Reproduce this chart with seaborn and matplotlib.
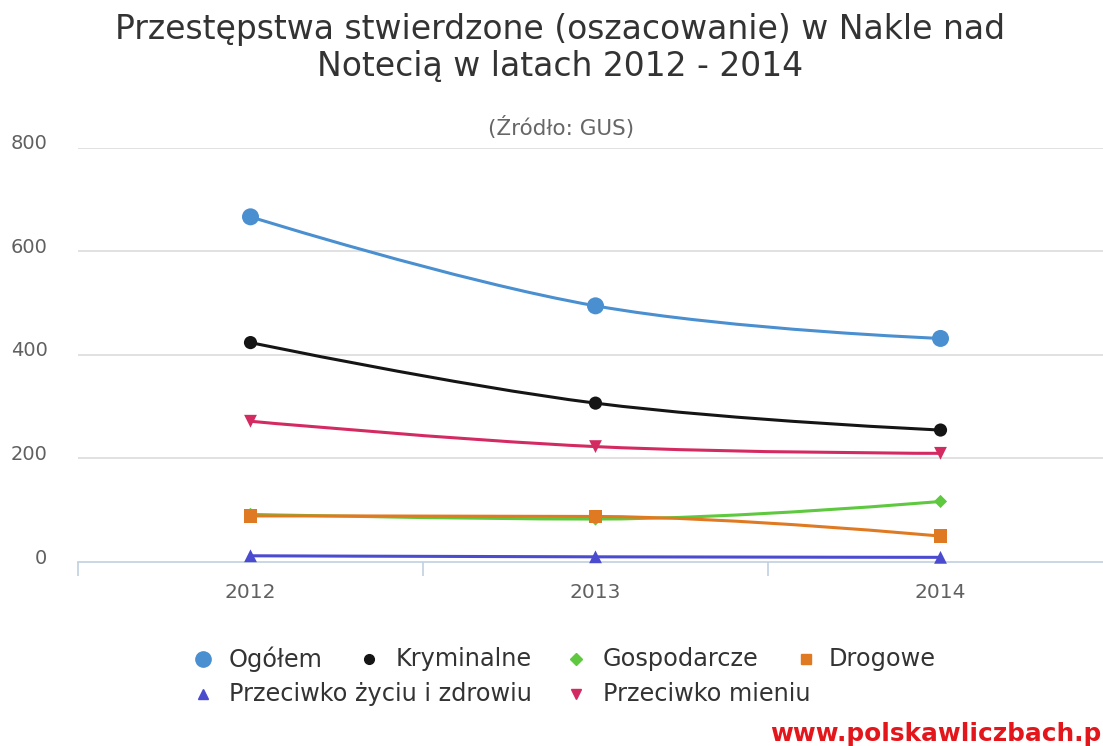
import numpy as np
import pandas as pd
import matplotlib
matplotlib.use("Agg")
import matplotlib.pyplot as plt
from matplotlib.path import Path
from matplotlib.patches import PathPatch
from matplotlib.lines import Line2D
from matplotlib.transforms import ScaledTranslation
import seaborn as sns

# --- data -------------------------------------------------------------
years = ["2012", "2013", "2014"]
series_names = ["Ogółem", "Kryminalne", "Gospodarcze", "Drogowe",
                "Przeciwko życiu i zdrowiu", "Przeciwko mieniu"]
ogolem = [667, 495, 432]
kryminalne = [424, 307, 255]
gospodarcze = [92, 83, 117]
drogowe = [89, 88, 50]
zycie_zdrowie = [12, 10, 9]
mienie = [272, 223, 210]
y_ticks = [0, 200, 400, 600, 800]

values = [ogolem, kryminalne, gospodarcze, drogowe, zycie_zdrowie, mienie]
colors = ["#4a8fd0", "#151515", "#5ec83f", "#e07a22", "#4b4bd0", "#d42a62"]
markers = ["o", "o", "D", "s", "^", "v"]
sizes = [150, 90, 45, 95, 85, 85]

df = pd.DataFrame({
    "rok": np.tile(np.arange(len(years)), len(series_names)),
    "seria": np.repeat(series_names, len(years)),
    "wartosc": np.concatenate(values),
})

sns.set_style("white")
plt.rcParams["font.family"] = ["DejaVu Sans"]

W, H = 1103, 746
fig = plt.figure(figsize=(W / 100, H / 100), dpi=100)
ax = fig.add_axes([78 / W, (H - 562) / H, (1113 - 78) / W, (562 - 148) / H])


def spline_path(xs, ys, smoothing=1.5):
    """Smoothed cubic Bezier path through the given points."""
    n = len(xs)
    left = [(xs[i], ys[i]) for i in range(n)]
    right = [(xs[i], ys[i]) for i in range(n)]
    d = smoothing + 1
    for i in range(1, n - 1):
        px, py = xs[i], ys[i]
        lx, ly = xs[i - 1], ys[i - 1]
        nx, ny = xs[i + 1], ys[i + 1]
        lcx, lcy = (smoothing * px + lx) / d, (smoothing * py + ly) / d
        rcx, rcy = (smoothing * px + nx) / d, (smoothing * py + ny) / d
        if rcx != lcx:
            corr = ((rcy - lcy) * (rcx - px)) / (rcx - lcx) + py - rcy
            lcy += corr
            rcy += corr
        if lcy > ly and lcy > py:
            lcy = max(ly, py); rcy = 2 * py - lcy
        elif lcy < ly and lcy < py:
            lcy = min(ly, py); rcy = 2 * py - lcy
        if rcy > ny and rcy > py:
            rcy = max(ny, py); lcy = 2 * py - rcy
        elif rcy < ny and rcy < py:
            rcy = min(ny, py); lcy = 2 * py - rcy
        left[i] = (lcx, lcy)
        right[i] = (rcx, rcy)
    verts = [(xs[0], ys[0])]
    codes = [Path.MOVETO]
    for i in range(1, n):
        verts += [right[i - 1], left[i], (xs[i], ys[i])]
        codes += [Path.CURVE4] * 3
    return Path(verts, codes)


# gridlines
for t in y_ticks[1:]:
    ax.axhline(t, color="#d8d8d8", lw=1.1, zorder=0)

# smoothed lines
xs = np.arange(len(years))
for vals, c in zip(values, colors):
    ax.add_patch(PathPatch(spline_path(xs, vals), fill=False, edgecolor=c,
                           lw=2.2, zorder=2, capstyle="round"))

# point markers
sns.scatterplot(data=df, x="rok", y="wartosc", hue="seria", style="seria",
                size="seria", hue_order=series_names, style_order=series_names,
                size_order=series_names,
                palette=dict(zip(series_names, colors)),
                markers=dict(zip(series_names, markers)),
                sizes=dict(zip(series_names, sizes)),
                edgecolor="none", legend=False, ax=ax, zorder=3, clip_on=False)

ax.set_xlim(-0.5, 2.5)
ax.set_ylim(0, 800)
ax.set_xticks(xs)
ax.set_xticklabels(years)
ax.set_xticks([-0.5, 0.5, 1.5, 2.5], minor=True)
ax.set_yticks(y_ticks)
ax.set_yticklabels([str(t) for t in y_ticks])
ax.set_xlabel("")
ax.set_ylabel("")
for s in ["top", "right", "left"]:
    ax.spines[s].set_visible(False)
ax.spines["bottom"].set_color("#c0d0e0")
ax.spines["bottom"].set_linewidth(1.2)
ax.tick_params(axis="x", which="major", length=0, pad=15, labelsize=14.5,
               labelcolor="#606060")
ax.tick_params(axis="x", which="minor", length=10, width=1.2,
               color="#c0d0e0", direction="out", bottom=True)
ax.tick_params(axis="y", length=0, pad=22, labelsize=14, labelcolor="#606060")
shift_up = ScaledTranslation(0, 4 / 100, fig.dpi_scale_trans)
for lab in ax.get_yticklabels():
    lab.set_verticalalignment("center")
    lab.set_transform(lab.get_transform() + shift_up)

# titles
fig.text(560 / W, 1 - 48 / H, "Przestępstwa stwierdzone (oszacowanie) w Nakle nad\nNotecią w latach 2012 - 2014",
         ha="center", va="center", fontsize=23.8, color="#333333", linespacing=1.17)
fig.text(561 / W, 1 - 127 / H, "(Źródło: GUS)", ha="center", va="center",
         fontsize=15.5, color="#666666")

# legend
legend_items = [
    (203, 229, 659, 0), (369, 396, 659, 1), (576, 603, 659, 2), (806, 829, 659, 3),
    (203, 229, 694, 4), (576, 603, 694, 5),
]
leg_sizes = [11, 7, 6, 7.5, 7.5, 7.5]
for mx, tx, yy, k in legend_items:
    fig.add_artist(Line2D([mx / W], [1 - yy / H], transform=fig.transFigure,
                          marker=markers[k], color=colors[k], markersize=leg_sizes[k],
                          linestyle="none"))
    fig.text(tx / W, 1 - yy / H, series_names[k], ha="left", va="center",
             fontsize=17.3, color="#333333")

fig.text(1101 / W, 1 - 734 / H, "www.polskawliczbach.p", ha="right", va="center",
         fontsize=17.8, fontweight="bold", color="#e3161c")

fig.savefig("out.png", dpi=100)
